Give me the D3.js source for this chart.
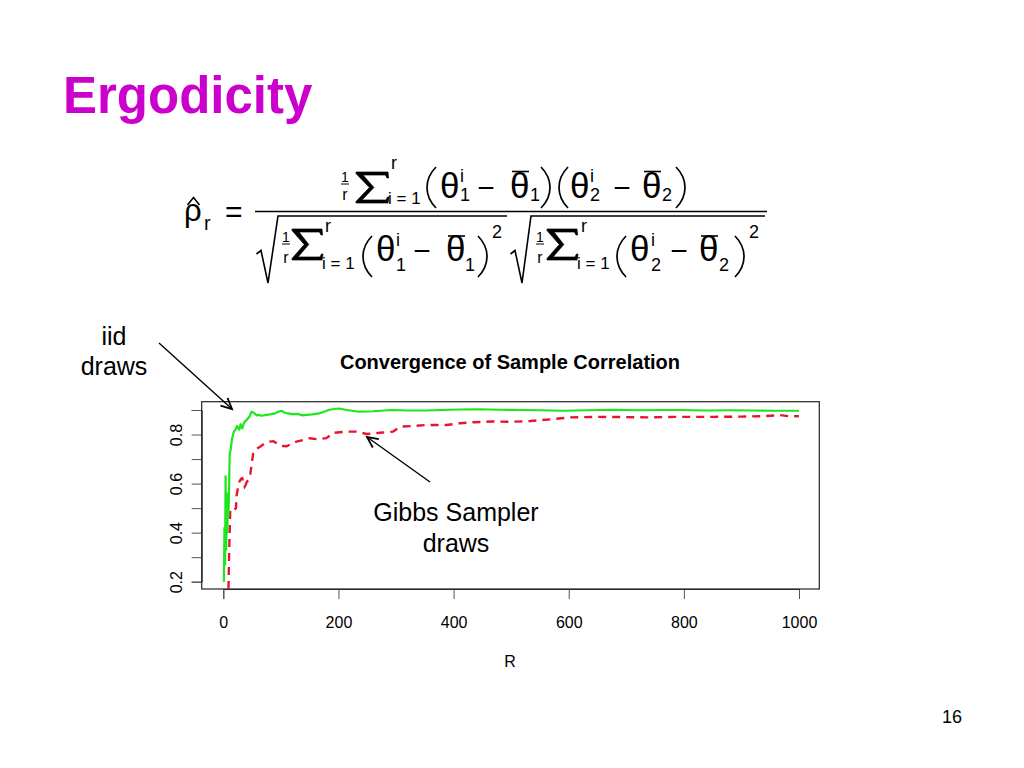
<!DOCTYPE html>
<html><head><meta charset="utf-8">
<script src="https://cdn.jsdelivr.net/npm/d3@7"></script>
<style>body{margin:0;background:#fff}svg{display:block}</style>
</head><body><svg id="c" width="1024" height="768"></svg>
<script>
// ---- data ----
const iidR = [1,2,3,4,5,6,7,8,9,10,11,13,15,18,21,24,26,28,30,33,35,37,40,43,46,49,52,55,58,61,65,70,75,81,88,96,101,106,112,120,130,137,144,155,166,175,184,193,201,215,236,260,293,320,351,380,410,446,480,516,550,590,630,677,720,760,793,840,880,920,960,1000];
const iidRho = [0.20,0.42,0.27,0.63,0.33,0.56,0.40,0.54,0.47,0.57,0.72,0.74,0.78,0.81,0.82,0.835,0.825,0.82,0.842,0.825,0.84,0.852,0.858,0.866,0.875,0.893,0.89,0.885,0.878,0.88,0.877,0.878,0.88,0.882,0.885,0.893,0.897,0.89,0.886,0.883,0.884,0.878,0.88,0.882,0.886,0.893,0.901,0.904,0.906,0.9,0.893,0.895,0.9,0.898,0.898,0.9,0.902,0.903,0.901,0.9,0.899,0.897,0.899,0.901,0.899,0.9,0.9,0.898,0.899,0.898,0.897,0.897];
const gibbsR = [9,10,12,14,17,20,22,23,26,28,31,33,35,37,39,41,44,47,49,52,55,58,64,72,81,87,93,98,104,110,116,127,139,150,162,179,186,192,214,232,249,272,295,307,330,353,388,411,434,466,500,533,570,602,649,700,736,793,851,900,938,967,985,1000];
const gibbsRho = [0.17,0.30,0.49,0.495,0.49,0.495,0.50,0.55,0.59,0.608,0.62,0.622,0.60,0.587,0.595,0.608,0.615,0.64,0.676,0.723,0.735,0.743,0.75,0.764,0.771,0.773,0.764,0.757,0.753,0.752,0.759,0.771,0.778,0.785,0.781,0.785,0.797,0.807,0.812,0.812,0.802,0.807,0.812,0.832,0.835,0.839,0.839,0.846,0.85,0.853,0.852,0.855,0.862,0.87,0.872,0.871,0.87,0.872,0.872,0.873,0.875,0.879,0.874,0.875];
const xTicks = [0,200,400,600,800,1000];
const yTicks = [0.2,0.3,0.4,0.5,0.6,0.7,0.8,0.9];
const yTickLabels = ["0.2","","0.4","","0.6","","0.8",""];
const chartTitle = "Convergence of Sample Correlation";
const xLabel = "R";

const svg = d3.select("#c");
const FONT = "'Liberation Sans', Arial, Helvetica, sans-serif";

// ---- slide heading ----
svg.append("text").attr("x",63).attr("y",113).attr("font-family",FONT)
  .attr("font-weight","bold").attr("font-size",51).attr("fill","#cc00cc").text("Ergodicity");
svg.append("text").attr("x",962).attr("y",723).attr("text-anchor","end").attr("font-family",FONT)
  .attr("font-size",18).attr("fill","#000").text("16");

// ---- formula ----
const F = svg.append("g").attr("font-family",FONT).attr("fill","#000");
function T(x,y,s,size,anchor){ F.append("text").attr("x",x).attr("y",y).attr("font-size",size)
  .attr("text-anchor",anchor||"start").text(s); }
function L(x1,y1,x2,y2,w){ F.append("line").attr("x1",x1).attr("y1",y1).attr("x2",x2).attr("y2",y2)
  .attr("stroke","#000").attr("stroke-width",w||1.5); }
function P(d,w){ F.append("path").attr("d",d).attr("fill","none").attr("stroke","#000")
  .attr("stroke-width",w||1.5).attr("stroke-linejoin","miter"); }
function sigma(x0,x1,yt,yb){
  const w=x1-x0, ym=(yt+yb)/2, xm=x0+w*0.56;
  const d = `M${x0},${yt}L${x1},${yt}L${x1+0.5},${yt+6}L${x1-1},${yt+6}L${x1-2.5},${yt+3}L${x0+7},${yt+3}`+
            `L${xm},${ym}L${x0+6},${yb-3}L${x1-2},${yb-3}L${x1-0.5},${yb-6}L${x1+1},${yb-6}L${x1},${yb}L${x0},${yb}`+
            `L${x0},${yb-1.5}L${xm-4.5},${ym}L${x0},${yt+1.5}Z`;
  F.append("path").attr("d",d).attr("fill","#000").attr("stroke","#000").attr("stroke-width",0.7);
}
function paren(x0,x1,yt,yb,left){
  const d = left ? `M${x1},${yt}C${x0-1},${yt+(yb-yt)*0.3} ${x0-1},${yb-(yb-yt)*0.3} ${x1},${yb}`
                 : `M${x0},${yt}C${x1+1},${yt+(yb-yt)*0.3} ${x1+1},${yb-(yb-yt)*0.3} ${x0},${yb}`;
  P(d,1.7);
}
function frac1r(cx,y1,yb,yr){ T(cx,y1,"1",14,"middle"); L(cx-4,yb,cx+4,yb,1); T(cx,yr,"r",16,"middle"); }

// rho hat
T(184,221,"ρ",31); P("M187.5,205L193.5,197.5L199.5,205",1.6);
T(204,230,"r",20);
T(225,222,"=",30);
// main fraction bar
L(255,211.5,767,211.5,1.6);

// numerator
frac1r(345,181.5,184,199.5);
sigma(356,388,172,203);
T(391,168.5,"r",18); T(388,204,"i = 1",17);
paren(425,436,167,208,true);
T(440,198,"θ",35); T(460,182,"i",18); T(460,201,"1",18);
T(486,198,"−",30,"middle");
T(510,198,"θ",35); L(512,171.5,529,171.5,1.6); T(530,201,"1",18);
paren(541,552,167,208,false);
paren(557,568,167,208,true);
T(570,198,"θ",35); T(590,182,"i",18); T(590,201,"2",18);
T(622,198,"−",30,"middle");
T(642,198,"θ",35); L(644,171.5,661,171.5,1.6); T(662,201,"2",18);
paren(676,687,167,208,false);

// denominator part 1
P("M256.5,254L261,250.5L268,283L278,216L507,216",1.6);
frac1r(286,241.5,244,263);
sigma(292,322,229,260);
T(325,232,"r",18); T(322,268.5,"i = 1",17);
paren(361,372,236,277,true);
T(376,261,"θ",35); T(396,245.5,"i",18); T(396,271,"1",18);
T(422,261,"−",30,"middle");
T(446,261,"θ",35); L(448,236,465,236,1.6); T(465,271,"1",18);
paren(478,489,236,277,false);
T(492,238,"2",18);

// denominator part 2
P("M510.5,254L515,250.5L522,283L531,216L765,216",1.6);
frac1r(540,241.5,244,263);
sigma(547,577,229,260);
T(581,232,"r",18); T(577,268.5,"i = 1",17);
paren(615,626,236,277,true);
T(630,261,"θ",35); T(651,245.5,"i",18); T(651,271,"2",18);
T(679,261,"−",30,"middle");
T(699,261,"θ",35); L(701,236,718,236,1.6); T(719,271,"2",18);
paren(735,746,236,277,false);
T(749,238,"2",18);

// ---- chart ----
const box = {l:201.7, r:819.3, t:401.7, b:589};
const x = d3.scaleLinear().domain([0,1000]).range([223.3,799]);
const y = d3.scaleLinear().domain([0.2,0.9]).range([581.7,410]);

svg.append("defs").append("clipPath").attr("id","clip").append("rect")
  .attr("x",box.l).attr("y",box.t).attr("width",box.r-box.l).attr("height",box.b-box.t);

const xAxis = d3.axisBottom(x).tickValues(xTicks).tickSize(10).tickPadding(18).tickFormat(d3.format("d"));
const gx = svg.append("g").attr("transform",`translate(0,${box.b})`).call(xAxis);
const yAxis = d3.axisLeft(y).tickValues(yTicks).tickSize(10).tickFormat((d,i)=>yTickLabels[i]);
const gy = svg.append("g").attr("transform",`translate(${box.l},0)`).call(yAxis);
[gx,gy].forEach(g=>{
  g.selectAll("path.domain").attr("stroke","#333");
  g.selectAll(".tick line").attr("stroke","#555");
  g.selectAll("text").attr("font-family",FONT).attr("font-size",16).attr("fill","#000");
});
gy.selectAll(".tick text").attr("text-anchor","middle").attr("dy",0).attr("x",0).attr("y",0)
  .attr("transform","translate(-20,0) rotate(-90)");

svg.append("rect").attr("x",box.l).attr("y",box.t).attr("width",box.r-box.l).attr("height",box.b-box.t)
  .attr("fill","none").attr("stroke","#222").attr("stroke-width",1.2);

const line = d3.line().x(d=>x(d[0])).y(d=>y(d[1]));
const plot = svg.append("g").attr("clip-path","url(#clip)");
plot.append("path").datum(gibbsR.map((r,i)=>[r,gibbsRho[i]])).attr("d",line)
  .attr("fill","none").attr("stroke","#e8132e").attr("stroke-width",2.4).attr("stroke-dasharray","8,6");
plot.append("path").datum(iidR.map((r,i)=>[r,iidRho[i]])).attr("d",line)
  .attr("fill","none").attr("stroke","#1ee61e").attr("stroke-width",2.2).attr("stroke-linejoin","round");

svg.append("text").attr("x",510).attr("y",369).attr("text-anchor","middle").attr("font-family",FONT)
  .attr("font-weight","bold").attr("font-size",20).text(chartTitle);
svg.append("text").attr("x",510).attr("y",667).attr("text-anchor","middle").attr("font-family",FONT)
  .attr("font-size",16).text(xLabel);

// ---- annotations ----
const A = svg.append("g").attr("font-family",FONT).attr("font-size",25).attr("text-anchor","middle");
A.append("text").attr("x",114).attr("y",345).text("iid");
A.append("text").attr("x",114).attr("y",375).text("draws");
A.append("text").attr("x",456).attr("y",521).text("Gibbs Sampler");
A.append("text").attr("x",456).attr("y",552).text("draws");
function arrow(x1,y1,x2,y2){
  svg.append("line").attr("x1",x1).attr("y1",y1).attr("x2",x2).attr("y2",y2).attr("stroke","#000").attr("stroke-width",1.4);
  const a = Math.atan2(y2-y1,x2-x1), len=12, sp=Math.PI/7;
  svg.append("path").attr("d",`M${x2-len*Math.cos(a-sp)},${y2-len*Math.sin(a-sp)}L${x2},${y2}L${x2-len*Math.cos(a+sp)},${y2-len*Math.sin(a+sp)}`)
    .attr("fill","none").attr("stroke","#000").attr("stroke-width",1.8);
}
arrow(159,343,232,409);
arrow(430,482,367,437);
</script></body></html>
